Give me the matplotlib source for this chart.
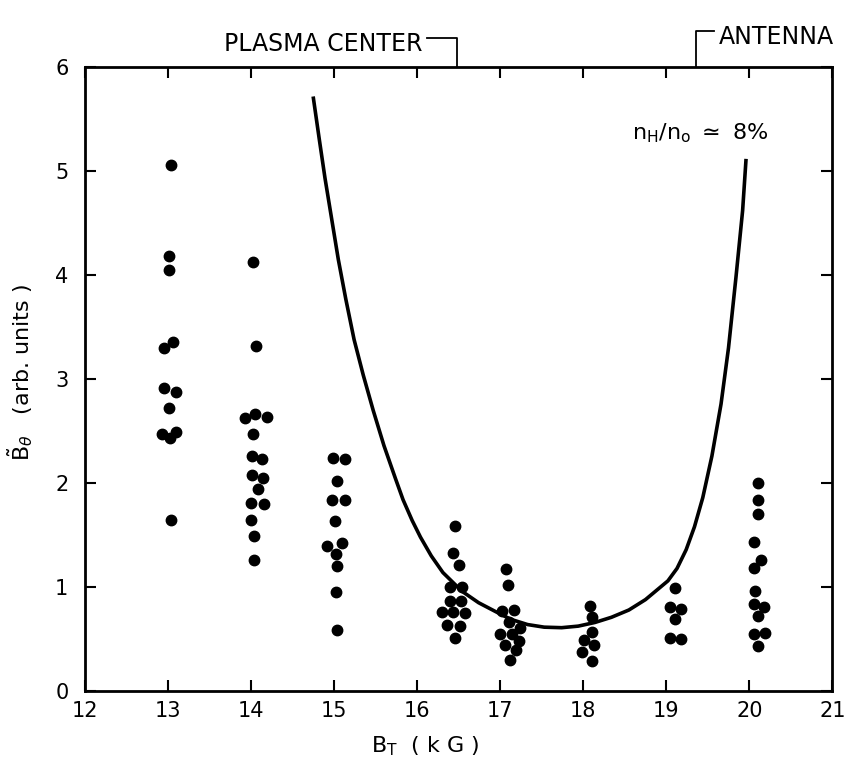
import matplotlib.pyplot as plt

# measured field amplitude vs toroidal field, grouped by field setting
bt_13 = [13.03, 13.01, 13.01, 13.06, 12.95, 12.95, 13.10, 13.01, 12.93, 13.02, 13.10, 13.03]
bth_13 = [5.06, 4.18, 4.05, 3.36, 3.30, 2.91, 2.88, 2.72, 2.47, 2.43, 2.49, 1.65]

bt_14 = [14.02, 14.06, 13.93, 14.05, 14.19, 14.02, 14.01, 14.13, 14.01, 14.14, 14.08, 14.00, 14.15, 14.00, 14.03, 14.03]
bth_14 = [4.13, 3.32, 2.63, 2.66, 2.64, 2.47, 2.26, 2.23, 2.08, 2.05, 1.94, 1.81, 1.80, 1.65, 1.49, 1.26]

bt_15 = [14.99, 15.13, 15.03, 14.98, 15.13, 15.01, 14.91, 15.09, 15.02, 15.03, 15.02, 15.03]
bth_15 = [2.24, 2.23, 2.02, 1.84, 1.84, 1.64, 1.40, 1.42, 1.32, 1.20, 0.95, 0.59]

bt_16 = [16.45, 16.43, 16.50, 16.39, 16.54, 16.39, 16.53, 16.30, 16.43, 16.58, 16.36, 16.52, 16.45]
bth_16 = [1.59, 1.33, 1.21, 1.00, 1.00, 0.87, 0.87, 0.76, 0.76, 0.75, 0.64, 0.63, 0.51]

bt_17 = [17.07, 17.09, 17.02, 17.17, 17.10, 17.24, 17.00, 17.14, 17.23, 17.06, 17.19, 17.12]
bth_17 = [1.17, 1.02, 0.77, 0.78, 0.66, 0.61, 0.55, 0.55, 0.48, 0.44, 0.40, 0.30]

bt_18 = [18.08, 18.10, 18.11, 18.01, 18.13, 17.99, 18.10]
bth_18 = [0.82, 0.71, 0.57, 0.49, 0.44, 0.38, 0.29]

bt_19 = [19.10, 19.05, 19.18, 19.11, 19.04, 19.18]
bth_19 = [0.99, 0.81, 0.79, 0.69, 0.51, 0.50]

bt_20 = [20.10, 20.11, 20.11, 20.06, 20.14, 20.06, 20.07, 20.06, 20.18, 20.11, 20.06, 20.19, 20.11]
bth_20 = [2.00, 1.84, 1.70, 1.43, 1.26, 1.18, 0.96, 0.84, 0.81, 0.72, 0.55, 0.56, 0.43]

# theory curve for nH/no = 8%
curve_bt = [14.75, 14.82, 14.89, 14.97, 15.05, 15.14, 15.24, 15.35, 15.47, 15.60, 15.74,
            15.83, 15.94, 16.04, 16.17, 16.31, 16.54, 16.74, 16.98, 17.13, 17.33, 17.53,
            17.74, 17.94, 18.14, 18.34, 18.55, 18.75, 19.02, 19.13, 19.24, 19.34, 19.44,
            19.55, 19.66, 19.75, 19.84, 19.92, 19.96]
curve_bth = [5.70, 5.31, 4.93, 4.54, 4.15, 3.77, 3.38, 3.04, 2.70, 2.36, 2.04,
             1.84, 1.64, 1.48, 1.30, 1.14, 0.96, 0.85, 0.75, 0.69, 0.64, 0.615,
             0.61, 0.625, 0.66, 0.71, 0.78, 0.88, 1.06, 1.18, 1.36, 1.58, 1.86,
             2.26, 2.76, 3.30, 3.98, 4.62, 5.10]

plasma_center = 16.48
antenna = 19.36

fig = plt.figure(figsize=(8.51, 7.62), dpi=100)
ax = fig.add_axes([0.100, 0.093, 0.878, 0.819])

for xs, ys in [(bt_13, bth_13), (bt_14, bth_14), (bt_15, bth_15), (bt_16, bth_16),
               (bt_17, bth_17), (bt_18, bth_18), (bt_19, bth_19), (bt_20, bth_20)]:
    ax.plot(xs, ys, 'o', color='black', markersize=7.5, linestyle='none')

ax.plot(curve_bt, curve_bth, color='black', linewidth=2.6, solid_joinstyle='round')

ax.set_xlim(12, 21)
ax.set_ylim(0, 6)
ax.set_xticks(range(12, 22))
ax.set_yticks(range(0, 7))
ax.tick_params(axis='both', direction='in', length=8, width=1.5, top=True, right=True, labelsize=15)
ax.tick_params(axis='y', pad=12)
ax.tick_params(axis='x', pad=7)
for s in ax.spines.values():
    s.set_linewidth(2)

ax.set_xlabel(r'B$_\mathregular{T}$  ( k G )', fontsize=16)
ax.xaxis.set_label_coords(0.455, -0.07)
ax.set_ylabel(r'$\tilde{\mathregular{B}}_\theta$   (arb. units )', fontsize=16)
ax.yaxis.set_label_coords(-0.067, 0.51)

ax.text(18.59, 5.36, r'n$_\mathregular{H}$/n$_\mathregular{o}$ $\simeq$ 8%', fontsize=16, va='center', ha='left')

# location markers above the frame
ax.text(16.07, 6.22, 'PLASMA CENTER', fontsize=17, ha='right', va='center', clip_on=False)
ax.plot([16.12, plasma_center, plasma_center], [6.28, 6.28, 6.0], color='black', linewidth=1.3, clip_on=False)
ax.text(19.63, 6.29, 'ANTENNA', fontsize=17, ha='left', va='center', clip_on=False)
ax.plot([19.58, antenna, antenna], [6.35, 6.35, 6.0], color='black', linewidth=1.3, clip_on=False)

plt.savefig('out.png', dpi=100)
